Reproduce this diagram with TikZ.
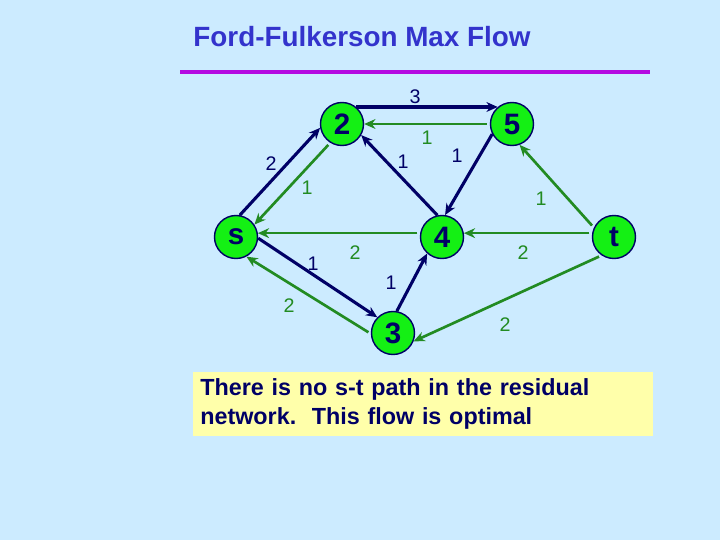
\documentclass[tikz,border=0pt]{standalone}
\usepackage{fontspec}
\setmainfont{Liberation Sans}
\usetikzlibrary{arrows.meta}
\definecolor{bgblue}{RGB}{204,235,255}
\definecolor{navy}{RGB}{0,0,102}
\definecolor{flowgreen}{RGB}{34,139,34}
\definecolor{nodegreen}{RGB}{20,240,20}
\definecolor{titleblue}{RGB}{51,51,204}
\definecolor{rulepurple}{RGB}{180,10,225}
\definecolor{notebox}{RGB}{255,255,170}
\frenchspacing
\begin{document}
\begin{tikzpicture}[x=0.25mm, y=-0.25mm, line join=round, >={Stealth[length=8pt,width=7pt]}]
\tikzset{vertex/.style={circle, draw=navy, line width=1pt, fill=nodegreen, minimum size=10.75mm, inner sep=0pt, text=navy, font=\fontsize{21}{21}\selectfont\bfseries},
  fwd/.style={->, draw=navy, line width=2.2pt},
  back/.style={->, draw=flowgreen, line width=1.9pt, shorten <=2pt},
  lfwd/.style={text=navy, font=\fontsize{14}{14}\selectfont},
  lback/.style={text=flowgreen, font=\fontsize{14}{14}\selectfont}}
\fill[bgblue] (0,0) rectangle (720,540);
\useasboundingbox (0,0) rectangle (720,540);
% title
\node[text=titleblue, font=\fontsize{19.8}{20}\selectfont\bfseries] (title) at (362,37) {Ford-Fulkerson Max Flow};
\draw[rulepurple, line width=3.5pt] (180,72)--(650,72);
% vertices
\node[vertex] (s) at (236,237) {s};
\node[vertex] (n2) at (342,124) {2};
\node[vertex] (n5) at (512,124) {5};
\node[vertex] (n4) at (442,237) {4};
\node[vertex] (t) at (614,237) {t};
\node[vertex] (n3) at (393,333) {3};
% residual edges
\draw[fwd] (n2.50)--(n5.130);
\draw[back] (n5.west)--(n2.east);
\draw[fwd] (s.80)--(n2.190);
\draw[back] (n2.238)--(s.34);
\draw[fwd] (n4.102)--(n2.330);
\draw[fwd] (n5.207)--(n4.82);
\draw[back] (t.155)--(n5.290);
\draw[back] (n4.170)--(s.10);
\draw[back] (t.170)--(n4.10);
\draw[fwd] (s.357)--(n3.135);
\draw[back] (n3.182)--(s.298);
\draw[fwd] (n3.80)--(n4.228);
\draw[back] (t.236)--(n3.338);
% capacities
\node[lfwd] (c25) at (415,97) {3};
\node[lback] (c52) at (427,138) {1};
\node[lfwd] (cs2) at (271,164) {2};
\node[lback] (c2s) at (307,188) {1};
\node[lfwd] (c42) at (403,162) {1};
\node[lfwd] (c54) at (457,156) {1};
\node[lback] (ct5) at (541,199) {1};
\node[lback] (c4s) at (355,253) {2};
\node[lback] (ct4) at (523,253) {2};
\node[lfwd] (cs3) at (313,264) {1};
\node[lback] (c3s) at (289,306) {2};
\node[lfwd] (c34) at (391,283) {1};
\node[lback] (ct3) at (505,325) {2};
% note
\node[anchor=north west, fill=notebox, minimum width=115mm, minimum height=16mm, inner xsep=1.75mm, text width=111.5mm, align=left, text=navy, font=\fontsize{16.6}{20.5}\selectfont\bfseries] (note) at (193,372) {There is no s-t path in the residual\\network.~ This flow is optimal};
\end{tikzpicture}
\end{document}
